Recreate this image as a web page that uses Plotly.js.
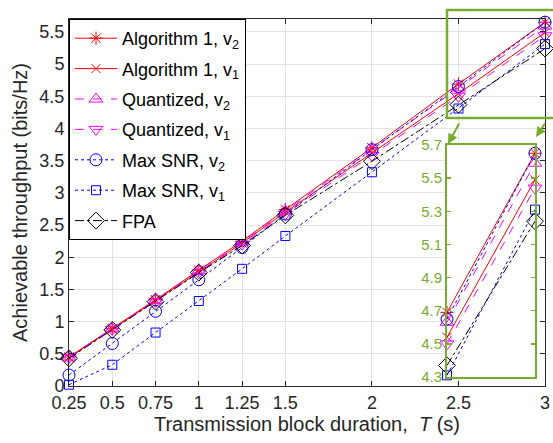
<!DOCTYPE html>
<html><head><meta charset="utf-8">
<script src="https://cdn.plot.ly/plotly-3.0.1.min.js"></script>
<style>html,body{margin:0;padding:0;background:#fff}#chart{width:553px;height:443px}</style>
</head><body><div id="chart"></div>
<script>
const T = [0.25, 0.5, 0.75, 1, 1.25, 1.5, 2, 2.5, 3];
const xTicks = [0.25, 0.5, 0.75, 1, 1.25, 1.5, 2, 2.5, 3];
const xTickText = ['0.25','0.5','0.75','1','1.25','1.5','2','2.5','3'];
const alg1V2   = [0.45, 0.89, 1.34, 1.80, 2.25, 2.74, 3.70, 4.69, 5.65];
const alg1V1   = [0.44, 0.88, 1.32, 1.77, 2.22, 2.70, 3.62, 4.54, 5.49];
const quantV2  = [0.45, 0.89, 1.33, 1.79, 2.24, 2.72, 3.67, 4.63, 5.59];
const quantV1  = [0.44, 0.88, 1.31, 1.76, 2.20, 2.67, 3.58, 4.50, 5.44];
const maxSnrV2 = [0.17, 0.66, 1.16, 1.65, 2.15, 2.67, 3.67, 4.65, 5.65];
const maxSnrV1 = [0.02, 0.33, 0.83, 1.32, 1.82, 2.33, 3.32, 4.31, 5.31];
const fpa      = [0.43, 0.87, 1.31, 1.76, 2.18, 2.65, 3.49, 4.37, 5.24];
const insetT = [2.5, 3];
const insetTicks = [4.3, 4.5, 4.7, 4.9, 5.1, 5.3, 5.5, 5.7];
const insetTickText = ['4.3','4.5','4.7','4.9','5.1','5.3','5.5','5.7'];

const green = '#77AC30';
const series = [
  {name:'Algorithm 1, v<sub>2</sub>', y:alg1V2, color:'#FF0000', dash:'solid', symbol:'asterisk-open', size:11},
  {name:'Algorithm 1, v<sub>1</sub>', y:alg1V1, color:'#FF0000', dash:'solid', symbol:'x-thin-open', size:9},
  {name:'Quantized, v<sub>2</sub>', y:quantV2, color:'#FF00FF', dash:'dash', symbol:'triangle-up-open', size:12},
  {name:'Quantized, v<sub>1</sub>', y:quantV1, color:'#FF00FF', dash:'dash', symbol:'triangle-down-open', size:12},
  {name:'Max SNR, v<sub>2</sub>', y:maxSnrV2, color:'#0000FF', dash:'dot', symbol:'circle-open', size:12},
  {name:'Max SNR, v<sub>1</sub>', y:maxSnrV1, color:'#0000FF', dash:'dot', symbol:'square-open', size:9},
  {name:'FPA', y:fpa, color:'#000000', dash:'dashdot', symbol:'diamond-open', size:13}
];

const traces = [];
series.forEach((s, i) => {
  traces.push({
    x: T, y: s.y, name: s.name, type: 'scatter', mode: 'lines+markers',
    legendgroup: 'g' + i,
    line: {color: s.color, dash: s.dash, width: 1},
    marker: {symbol: s.symbol, size: s.size, color: s.color, line: {color: s.color, width: 1}},
    cliponaxis: false, xaxis: 'x', yaxis: 'y'
  });
});
series.forEach((s, i) => {
  traces.push({
    x: insetT, y: s.y.slice(-2), name: s.name, type: 'scatter', mode: 'lines+markers',
    showlegend: false,
    line: {color: s.color, dash: s.dash, width: 1},
    marker: {symbol: s.symbol, size: s.size, color: s.color, line: {color: s.color, width: 1}},
    cliponaxis: false, xaxis: 'x2', yaxis: 'y2'
  });
});

const W = 476, H = 367, L = 69, TOP = 19;
const px = v => (v - L) / W;
const py = v => (TOP + H - v) / H;

const layout = {
  width: 553, height: 443,
  margin: {l: L, r: 8, t: TOP, b: 57},
  paper_bgcolor: '#fff', plot_bgcolor: '#fff',
  font: {family: 'Liberation Sans, Arial, sans-serif', size: 18, color: '#262626'},
  showlegend: true,
  legend: {x: 0, y: 1, xanchor: 'left', yanchor: 'top', bgcolor: '#fff',
           bordercolor: '#000', borderwidth: 1, tracegroupgap: 4, itemwidth: 42,
           font: {size: 18, color: '#000'}},
  xaxis: {domain: [0, 1], range: [0.25, 3], tickvals: xTicks, ticktext: xTickText,
          showgrid: true, gridcolor: '#e3e3e3', zeroline: false,
          showline: true, linecolor: '#262626', linewidth: 1, mirror: 'allticks',
          ticks: 'inside', ticklen: 5, tickcolor: '#262626',
          tickfont: {size: 18},
          title: {text: 'Transmission block duration,  <i>T</i> (s)', font: {size: 20}, standoff: 4}},
  yaxis: {domain: [0, 1], range: [0, 5.7], dtick: 0.5, tick0: 0,
          showgrid: true, gridcolor: '#e3e3e3', zeroline: false,
          showline: true, linecolor: '#262626', linewidth: 1, mirror: 'allticks',
          ticks: 'inside', ticklen: 5, tickcolor: '#262626',
          tickfont: {size: 18},
          title: {text: 'Achievable throughput (bits/Hz)', font: {size: 20}, standoff: 6}},
  xaxis2: {domain: [px(447), px(535)], range: [2.5, 3], anchor: 'y2',
           showticklabels: false, showgrid: false, zeroline: false,
           showline: true, linecolor: green, linewidth: 2, mirror: true, ticks: ''},
  yaxis2: {domain: [py(377), py(145)], range: [4.3, 5.7], anchor: 'x2',
           tickvals: insetTicks, ticktext: insetTickText,
           showgrid: false, zeroline: false,
           showline: true, linecolor: green, linewidth: 2, mirror: 'allticks',
           ticks: 'inside', ticklen: 4, tickcolor: green, tickwidth: 1.5,
           tickfont: {color: green, size: 15}},
  shapes: [
    {type: 'rect', xref: 'paper', yref: 'paper', x0: px(447), x1: px(560), y0: py(118), y1: py(10),
     line: {color: green, width: 2.5}, fillcolor: 'rgba(0,0,0,0)', layer: 'above'}
  ],
  annotations: [
    {xref: 'paper', yref: 'paper', x: px(448), y: py(144), ax: 12, ay: -22, text: '',
     showarrow: true, arrowhead: 2, arrowsize: 1, arrowwidth: 2, arrowcolor: green},
    {xref: 'paper', yref: 'paper', x: px(536), y: py(137), ax: 10, ay: -15, text: '',
     showarrow: true, arrowhead: 2, arrowsize: 1, arrowwidth: 2, arrowcolor: green}
  ]
};

Plotly.newPlot('chart', traces, layout, {displayModeBar: false, staticPlot: true});
</script></body></html>
